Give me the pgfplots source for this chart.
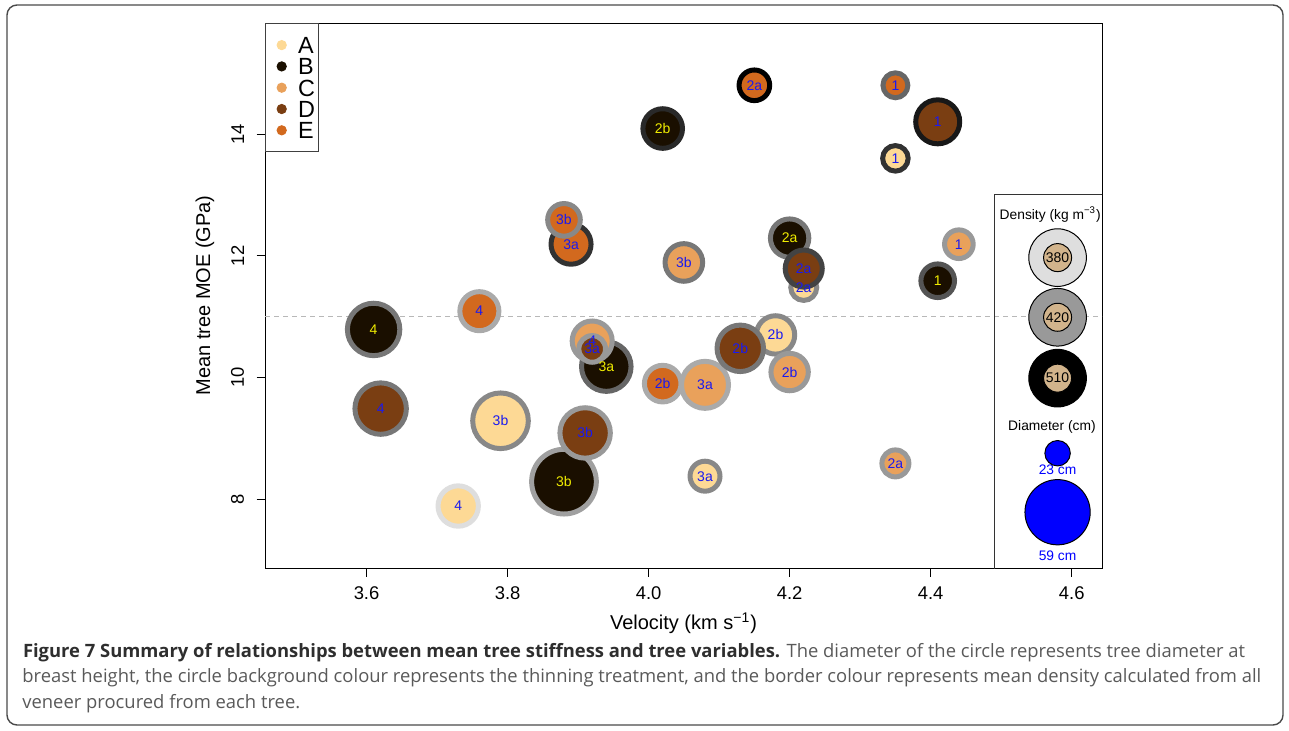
\documentclass[border=0pt]{standalone}
\usepackage{pgfplots}
\pgfplotsset{compat=1.18}
\usepackage{pgfplotstable}
\usepackage{fontspec}
\setmainfont{Liberation Sans}
\newfontfamily\capfont{Open Sans}

% thinning treatment colours
\definecolor{trA}{HTML}{FDD995}
\definecolor{trB}{HTML}{1A0F00}
\definecolor{trC}{HTML}{E9A15B}
\definecolor{trD}{HTML}{7A3E12}
\definecolor{trE}{HTML}{D2691E}
% label colours
\definecolor{lb}{HTML}{1A1AF0}
\definecolor{ly}{HTML}{F0EC00}
\definecolor{keytan}{HTML}{D2B48C}
\definecolor{capdark}{HTML}{2E2E2E}
\definecolor{capgray}{HTML}{595959}
\definecolor{framegray}{HTML}{4A4A4A}

% border grey from density: 380 light, 510 black
\pgfplotsset{colormap={ring}{gray(0cm)=(0.87) gray(1cm)=(0)}}

\pgfplotsset{
  tree/.style={forget plot, scatter, only marks, mark=*,
    point meta=\thisrow{dens},
    visualization depends on={\thisrow{dbh}*0.2765 \as \rad},
    scatter/use mapped color={draw=mapped color, fill=#1},
    scatter/@pre marker code/.append style={/tikz/mark size=\rad},
    mark options={line width=2.5pt}},
  treelab/.style={forget plot, draw=none, mark=none,
    nodes near coords, point meta=explicit symbolic,
    nodes near coords style={anchor=center, inner sep=0pt, text=#1,
      font=\fontsize{7}{8}\selectfont}},
  trt/.style={legend image code/.code={\path (0pt,0pt); \fill[#1] (6.25pt,4.15pt) circle[radius=2.3pt];}},
}

% velocity (km/s), MOE (GPa), dbh (cm), density (kg/m3), plot label
\pgfplotstableread{
x y dbh dens lab
4.35 13.60 23.1 480 1
4.22 11.48 23.5 430 2a
4.18 10.70 34.7 430 2b
4.08 8.38 27.1 430 3a
3.79 9.29 50.3 430 3b
3.73 7.89 36.5 380 4
}\treesA
\pgfplotstableread{
x y dbh dens lab
4.41 11.59 30.4 460 1
4.20 12.29 34.7 440 2a
4.02 14.09 35.8 485 2b
3.94 10.18 44.8 450 3a
3.88 8.29 58.5 416 3b
3.61 10.79 47.4 440 4
}\treesB
\pgfplotstableread{
x y dbh dens lab
4.44 12.19 25.9 420 1
4.35 8.59 24.4 420 2a
4.20 10.09 33.8 420 2b
4.08 9.88 42.5 410 3a
4.05 11.89 34.0 440 3b
3.92 10.60 36.2 420 4
}\treesC
\pgfplotstableread{
x y dbh dens lab
4.41 14.20 39.8 495 1
4.22 11.79 33.5 470 2a
4.13 10.48 42.0 440 2b
3.92 10.47 24.1 420 3a
3.91 9.09 45.6 420 3b
3.62 9.49 46.5 440 4
}\treesD
\pgfplotstableread{
x y dbh dens lab
4.35 14.80 22.5 450 1
4.15 14.80 27.7 510 2a
4.02 9.90 33.1 410 2b
3.89 12.19 36.2 480 3a
3.88 12.59 29.5 430 3b
3.76 11.09 35.3 410 4
}\treesE

\pgfplotstableread{
x y dens lab
4.58 11.97 380 380
4.58 10.99 420 420
4.58 9.99 510 510
}\denskey

\begin{document}
\begin{tikzpicture}
\useasboundingbox (0pt,0pt) rectangle (644.5pt,-365.5pt);
\draw[framegray, line width=0.7pt, rounded corners=5pt] (3.5pt,-2.5pt) rectangle (641.5pt,-362.5pt);

\begin{axis}[
  at={(132.5pt,-284pt)}, anchor=south west,
  scale only axis, width=418.5pt, height=272.5pt,
  xmin=3.456, xmax=4.643, ymin=6.872, ymax=15.823,
  xtick={3.6,3.8,4.0,4.2,4.4,4.6}, ytick={8,10,12,14},
  tick pos=left, tick align=outside, major tick length=4.25pt,
  axis line style={black, line width=0.5pt},
  every tick/.style={black, line width=0.5pt},
  /pgf/number format/assume math mode=true,
  tick label style={font=\fontsize{9.2}{11}\selectfont, inner sep=0pt},
  xticklabel style={yshift=-5pt, /pgf/number format/.cd, fixed, fixed zerofill, precision=1},
  yticklabel style={xshift=-6pt, rotate=90, anchor=south},
  label style={font=\fontsize{9.4}{11}\selectfont},
  xlabel={Velocity (km s\textsuperscript{−1})},
  ylabel={Mean tree MOE (GPa)},
  every axis x label/.style={at={(axis description cs:0.5,0)}, yshift=-27.5pt, anchor=center},
  every axis y label/.style={at={(axis description cs:0,0.5)}, xshift=-30pt, rotate=90, anchor=center},
  point meta min=380, point meta max=510, colormap name=ring,
  legend style={at={(0,1)}, anchor=north west, draw=black!75, line width=0.5pt, fill=none,
    inner xsep=1.6pt, inner ysep=5.35pt, row sep=0pt,
    font=\fontsize{11.7}{12}\selectfont,
    nodes={anchor=base west, inner sep=0pt, text height=9.6pt, text depth=1.05pt},
    /tikz/every odd column/.append style={column sep=5.7pt}},
]

% trees: fill = treatment, border = density, size = diameter
\addplot[tree=trA] table[x=x, y=y] {\treesA};
\addplot[tree=trB] table[x=x, y=y] {\treesB};
\addplot[tree=trC] table[x=x, y=y] {\treesC};
\addplot[tree=trD] table[x=x, y=y] {\treesD};
\addplot[tree=trE] table[x=x, y=y] {\treesE};

\addplot[treelab=lb] table[x=x, y=y, meta=lab] {\treesA};
\addplot[treelab=ly] table[x=x, y=y, meta=lab] {\treesB};
\addplot[treelab=lb] table[x=x, y=y, meta=lab] {\treesC};
\addplot[treelab=lb] table[x=x, y=y, meta=lab] {\treesD};
\addplot[treelab=lb] table[x=x, y=y, meta=lab] {\treesE};

\addplot[forget plot, black!28, line width=0.5pt, dash pattern=on 2.5pt off 2pt]
  coordinates {(3.456,11) (4.643,11)};

% key panel
\draw[black!80, line width=0.5pt] (axis cs:4.49,6.5) -- (axis cs:4.49,13.0) -- (axis cs:4.7,13.0);

\addplot[forget plot, scatter, only marks, mark=*, mark size=14.4pt,
  point meta=\thisrow{dens},
  scatter/use mapped color={draw=black, fill=mapped color},
  mark options={line width=0.5pt}]
  table[x=x, y=y] {\denskey};

\addplot[forget plot, only marks, mark=*, mark size=7pt,
  mark options={fill=keytan, draw=black, line width=0.5pt},
  nodes near coords, point meta=explicit symbolic,
  nodes near coords style={anchor=center, inner sep=0pt, text=black,
    font=\fontsize{7}{8}\selectfont}]
  table[x=x, y=y, meta=lab] {\denskey};

\addplot[forget plot, only marks, mark=*, mark size=6.36pt,
  mark options={fill=blue, draw=black, line width=0.5pt}]
  coordinates {(4.58,8.757)};
\addplot[forget plot, only marks, mark=*, mark size=16.31pt,
  mark options={fill=blue, draw=black, line width=0.5pt}]
  coordinates {(4.58,7.788)};

\node[font=\fontsize{6.9}{8}\selectfont, inner sep=0pt] at (axis cs:4.5695,12.67) {Density (kg m\textsuperscript{−3})};
\node[font=\fontsize{6.9}{8}\selectfont, inner sep=0pt] at (axis cs:4.572,9.184) {Diameter (cm)};
\node[font=\fontsize{6.9}{8}\selectfont, inner sep=0pt, text=blue] at (axis cs:4.58,8.483) {23 cm};
\node[font=\fontsize{6.9}{8}\selectfont, inner sep=0pt, text=blue] at (axis cs:4.58,7.076) {59 cm};

% treatment legend
\addlegendimage{trt=trA}
\addlegendentry{A}
\addlegendimage{trt=trB}
\addlegendentry{B}
\addlegendimage{trt=trC}
\addlegendentry{C}
\addlegendimage{trt=trD}
\addlegendentry{D}
\addlegendimage{trt=trE}
\addlegendentry{E}
\end{axis}

\begin{scope}[font=\capfont\fontsize{9.2}{12}\selectfont]
\node[anchor=base west, inner sep=0pt, text=capgray] at (11.3pt,-328.5pt)
  {\textbf{\color{capdark}Figure 7 Summary of relationships between mean tree stiffness and tree variables.} The diameter of the circle represents tree diameter at};
\node[anchor=base west, inner sep=0pt, text=capgray] at (11pt,-341.2pt)
  {breast height, the circle background colour represents the thinning treatment, and the border colour represents mean density calculated from all};
\node[anchor=base west, inner sep=0pt, text=capgray] at (11pt,-354pt)
  {veneer procured from each tree.};
\end{scope}
\end{tikzpicture}
\end{document}
